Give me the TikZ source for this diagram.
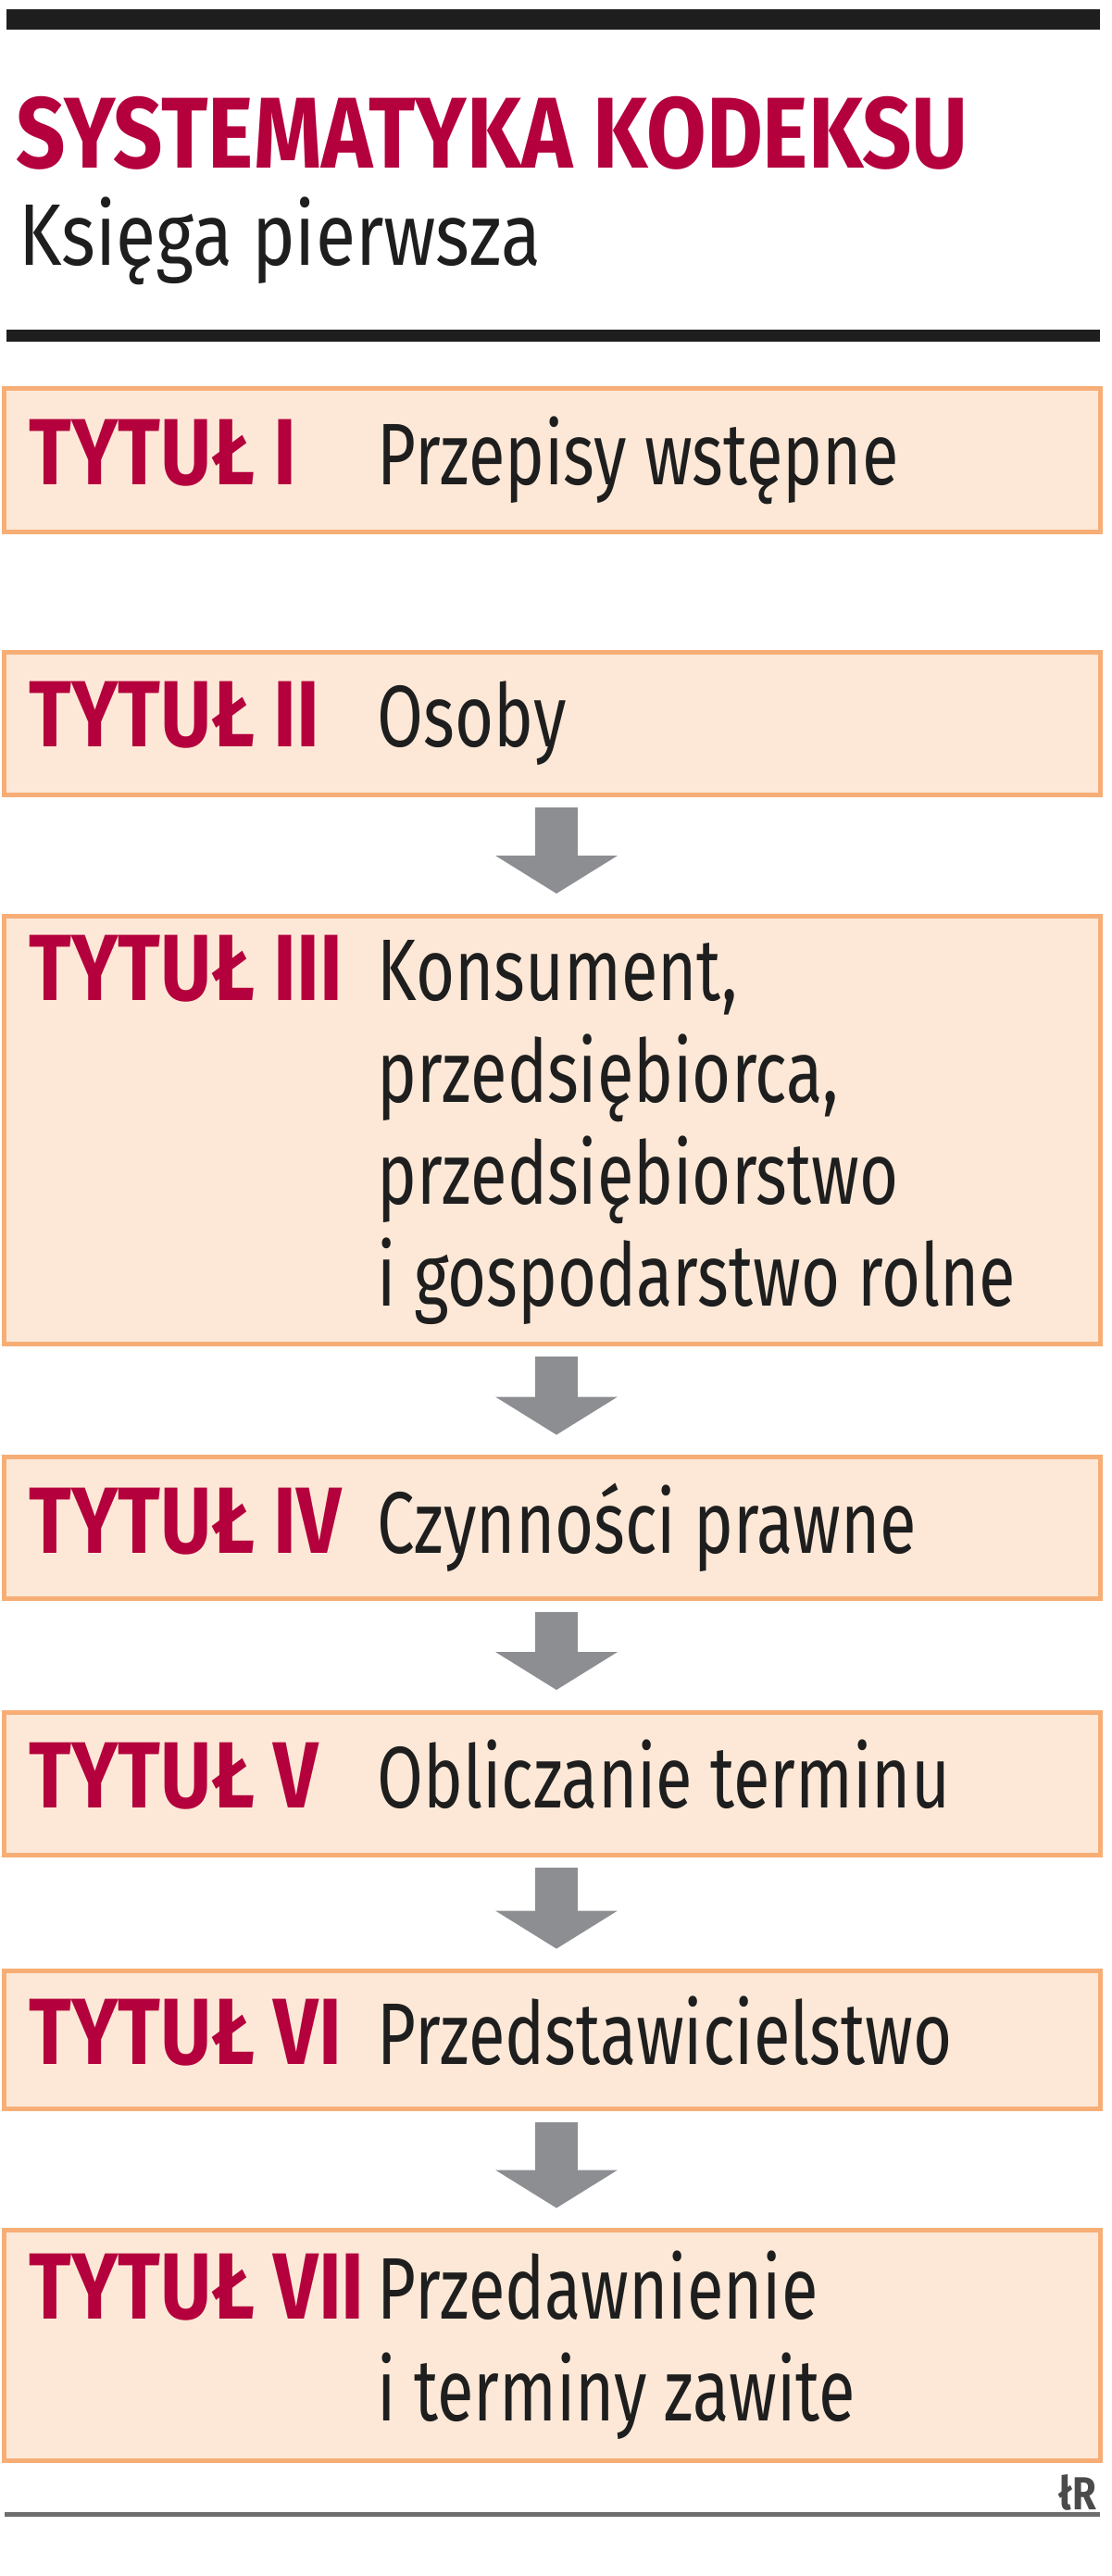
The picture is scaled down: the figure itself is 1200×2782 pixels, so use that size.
\documentclass[tikz,border=0pt]{standalone}
\usepackage{fontspec}
\setmainfont{Fira Sans}[FakeStretch=0.765]
\newfontfamily\tytfont{Fira Sans}[FakeStretch=0.835]
\newfontfamily\naglfont{Fira Sans}[FakeStretch=0.86]
\usetikzlibrary{arrows.meta}

\definecolor{tytred}{HTML}{B4003C}
\definecolor{boxfill}{HTML}{FDE8D7}
\definecolor{boxline}{HTML}{F7AE76}
\definecolor{arrgray}{HTML}{8C8E92}
\definecolor{bargray}{HTML}{1E1E1E}
\definecolor{footgray}{HTML}{6E6E6E}

\newlength{\px}
\setlength{\px}{0.5pt}

% label on the left, description from the second column
\newcommand{\wiersz}[2]{\makebox[376\px][l]{\color{tytred}\tytfont\fontsize{50.8}{54}\selectfont\bfseries #1}%
  \parbox[t]{753\px}{#2\vphantom{Oy}}}

\tikzset{
  tytbox/.style={draw=boxline, line width=5\px, fill=boxfill, minimum width=1184\px,
    inner sep=0pt, outer sep=0pt, text=bargray, font=\fontsize{47.2}{55}\selectfont},
  strzalka/.style={draw=arrgray, line width=23pt,
    -{Triangle[width=66pt,length=20.5pt,line width=0pt]},
    shorten <=7pt, shorten >=12pt},
}

\begin{document}
\begin{tikzpicture}[x=0.5pt,y=-0.5pt]
  \useasboundingbox (0,0) rectangle (1200,2782);

  % header
  \draw[bargray, line width=22\px] (7,21) -- (1188,21);
  \node[anchor=base west, inner sep=0pt, text=tytred, font=\naglfont\fontsize{54.4}{54}\selectfont\bfseries] (tytul) at (17,182) {SYSTEMATYKA KODEKSU};
  \node[anchor=base west, inner sep=0pt, text=bargray, font=\tytfont\fontsize{47.2}{54}\selectfont] (ksiega) at (20,287) {Księga pierwsza};
  \draw[bargray, line width=13\px] (7,363) -- (1188,363);

  % titles
  \node[tytbox, minimum height=155\px] (b1) at (596,497) {\wiersz{TYTUŁ I}{Przepisy wstępne}};
  \node[tytbox, minimum height=154\px] (b2) at (596,781) {\wiersz{TYTUŁ II}{Osoby}};
  \node[tytbox, minimum height=462\px] (b3) at (596,1220) {\wiersz{TYTUŁ III}{Konsument,\\przedsiębiorca,\\przedsiębiorstwo\\i gospodarstwo rolne}};
  \node[tytbox, minimum height=153\px] (b4) at (596,1650) {\wiersz{TYTUŁ IV}{Czynności prawne}};
  \node[tytbox, minimum height=154\px] (b5) at (596,1926) {\wiersz{TYTUŁ V}{Obliczanie terminu}};
  \node[tytbox, minimum height=149\px] (b6) at (596,2203) {\wiersz{TYTUŁ VI}{Przedstawicielstwo}};
  \node[tytbox, minimum height=249\px] (b7) at (596,2533) {\wiersz{TYTUŁ VII}{Przedawnienie\\i terminy zawite}};

  \foreach \von/\bis in {b2/b3,b3/b4,b4/b5,b5/b6,b6/b7}
    \draw[strzalka] ([xshift=2.5pt]\von.south) -- ([xshift=2.5pt]\bis.north);

  % footer
  \draw[footgray, line width=5\px] (5,2715) -- (1188,2715);
  \node[anchor=base east, inner sep=0pt, text=bargray!80, font=\tytfont\fontsize{25}{25}\selectfont\bfseries] (autor) at (1185,2710) {łR};
\end{tikzpicture}
\end{document}
